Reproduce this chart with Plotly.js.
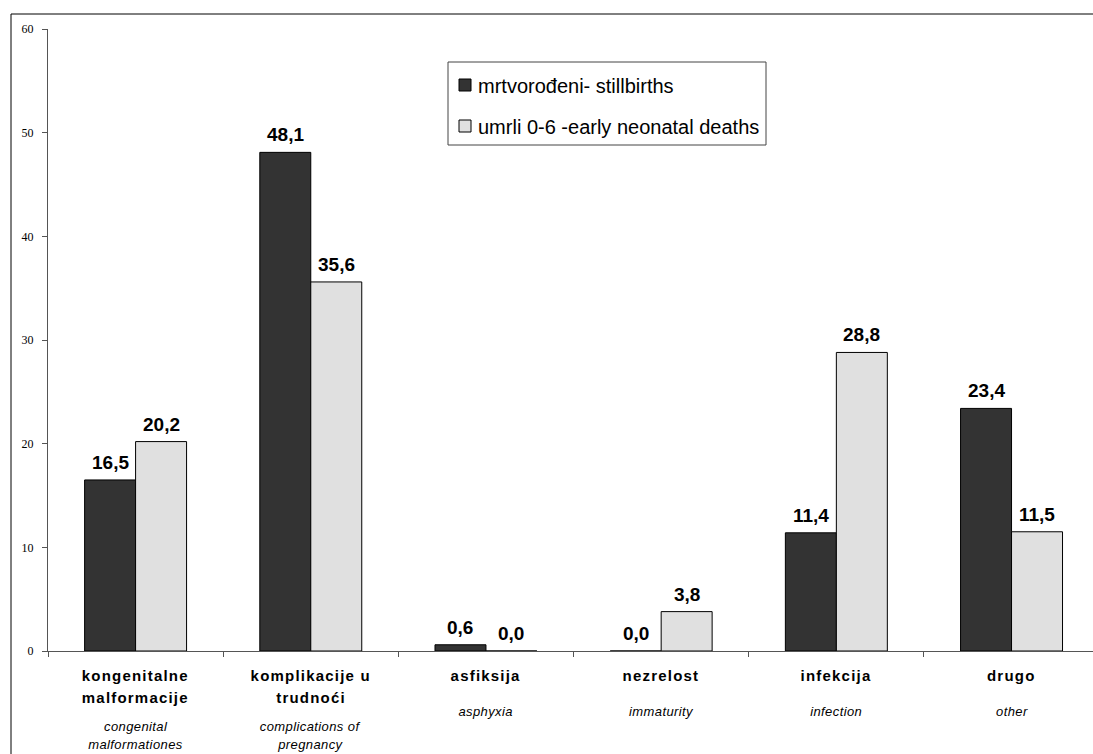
<!DOCTYPE html>
<html>
<head>
<meta charset="utf-8">
<script src="https://cdn.plot.ly/plotly-3.0.1.min.js"></script>
<style>html,body{margin:0;padding:0;overflow:hidden;background:#fff;}</style>
</head>
<body>
<div id="chart" style="width:1093px;height:754px;"></div>
<script>
const categories = ["kongenitalne<br>malformacije", "komplikacije u<br>trudnoći", "asfiksija", "nezrelost", "infekcija", "drugo"];
const subtitles = ["congenital<br>malformationes", "complications of<br>pregnancy", "asphyxia", "immaturity", "infection", "other"];
const seriesNames = ["mrtvorođeni- stillbirths", "umrli 0-6 -early neonatal deaths"];
const stillbirths = [16.5, 48.1, 0.6, 0.0, 11.4, 23.4];
const earlyNeonatal = [20.2, 35.6, 0.0, 3.8, 28.8, 11.5];
const yTicks = [0, 10, 20, 30, 40, 50, 60];

const W = 1093, H = 754, L = 48, T = 29, B = 103;
const plotH = H - T - B;
const py = p => (H - B - p) / plotH;   // pixel y -> paper y
const px = p => (p - L) / (W - L);     // pixel x -> paper x

const colors = ["#333333", "#e0e0e0"];
const series = [stillbirths, earlyNeonatal];

const traces = series.map((vals, i) => ({
  type: "bar",
  name: seriesNames[i],
  x: categories,
  y: vals,
  marker: {color: colors[i], line: {color: "#000", width: 1}},
  hoverinfo: "skip",
  showlegend: false
}));

const annotations = [];
const spacing = [];
const fmt = v => v.toFixed(1).replace(".", ",");
series.forEach((vals, i) => {
  vals.forEach((v, j) => {
    annotations.push({
      x: categories[j], y: v, xref: "x", yref: "y",
      xshift: i === 0 ? -25.5 : 25.5, yshift: 5,
      yanchor: "bottom", showarrow: false,
      text: fmt(v),
      font: {family: "Arial, Liberation Sans", size: 19, weight: "bold", color: "#000"}
    });
    spacing.push(0);
  });
});
categories.forEach((c, j) => {
  const lines = c.split("<br>");
  lines.forEach((ln, k) => {
    annotations.push({
      x: c, y: py(675 + 22 * k), xref: "x", yref: "paper", yanchor: "middle",
      showarrow: false, text: "<b>" + ln + "</b>",
      font: {family: "Arial, Liberation Sans", size: 15, color: "#000"}
    });
    spacing.push(1.2);
  });
  const subs = subtitles[j].split("<br>");
  const start = lines.length > 1 ? 726 : 711;
  subs.forEach((s, k) => {
    annotations.push({
      x: c, y: py(start + 18 * k), xref: "x", yref: "paper", yanchor: "middle",
      showarrow: false, text: "<i>" + s + "</i>",
      font: {family: "Arial, Liberation Sans", size: 13, color: "#000"}
    });
    spacing.push(0.4);
  });
});

// manual legend (built from seriesNames / colors)
const legendRows = [85, 126];
const shapes = [{
  type: "rect", xref: "paper", yref: "paper",
  x0: px(11), x1: px(1110), y0: py(770), y1: py(14),
  line: {color: "#000", width: 1}, fillcolor: "rgba(0,0,0,0)", layer: "below"
}, {
  type: "rect", xref: "paper", yref: "paper",
  x0: px(448), x1: px(766), y0: py(145), y1: py(62),
  line: {color: "#444", width: 1}, fillcolor: "#fff", layer: "above"
}];
seriesNames.forEach((n, i) => {
  const cy = legendRows[i];
  shapes.push({
    type: "rect", xref: "paper", yref: "paper",
    x0: px(459), x1: px(471), y0: py(cy + 6), y1: py(cy - 6),
    line: {color: "#000", width: 1}, fillcolor: colors[i], layer: "above"
  });
  annotations.push({
    x: px(476), y: py(cy + 1), xref: "paper", yref: "paper",
    xanchor: "left", yanchor: "middle", showarrow: false, text: n,
    font: {family: "Arial, Liberation Sans", size: 20, color: "#000"}
  });
  spacing.push(0);
});

const layout = {
  width: W, height: H,
  margin: {l: L, r: 0, t: T, b: B, pad: 0},
  paper_bgcolor: "#fff", plot_bgcolor: "#fff",
  barmode: "group", bargap: 0.418, bargroupgap: 0,
  showlegend: false,
  xaxis: {
    type: "category", range: [-0.5, 5.465],
    showline: true, linecolor: "#555", linewidth: 1,
    ticks: "outside", tickson: "boundaries", ticklen: 5, tickcolor: "#555",
    showticklabels: false, showgrid: false, zeroline: false, fixedrange: true
  },
  yaxis: {
    range: [0, 60], tickvals: yTicks, ticktext: yTicks.map(String),
    showline: true, linecolor: "#555", linewidth: 1,
    ticks: "outside", ticklen: 5, tickcolor: "#555",
    showgrid: false, zeroline: false,
    tickfont: {family: "Times New Roman, Liberation Serif", size: 12, color: "#000"},
    ticklabelstandoff: 6, fixedrange: true
  },
  annotations: annotations,
  shapes: shapes
};

Plotly.newPlot("chart", traces, layout, {displayModeBar: false, staticPlot: true}).then(gd => {
  gd.querySelectorAll("g.annotation").forEach(g => {
    const idx = +g.getAttribute("data-index");
    const sp = spacing[idx];
    if (sp) {
      g.querySelectorAll("text").forEach(t => { t.style.letterSpacing = sp + "px"; });
    }
  });
});
</script>
</body>
</html>
